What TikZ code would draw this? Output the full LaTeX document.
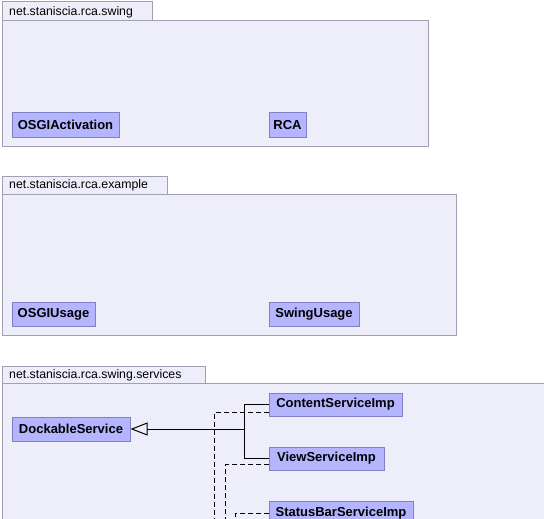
\documentclass[tikz,border=0pt]{standalone}
\usepackage{fontspec}
\setmainfont{Liberation Sans}
\usetikzlibrary{arrows.meta}
\definecolor{pkgfill}{RGB}{238,238,251}
\definecolor{pkgdraw}{RGB}{160,160,178}
\definecolor{clsfill}{RGB}{180,180,255}
\definecolor{clsdraw}{RGB}{128,128,196}
\tikzset{
  pkgbox/.style={draw=pkgdraw, fill=pkgfill, line width=1pt},
  pkglabel/.style={anchor=west, inner sep=0pt, font=\fontsize{12.3}{14}\selectfont},
  cls/.style={draw=clsdraw, fill=clsfill, line width=1pt, inner sep=0pt,
    minimum height=24pt, font=\bfseries\fontsize{13}{15}\selectfont},
  conn/.style={line width=1pt, black},
  dep/.style={line width=1pt, black, dash pattern=on 5pt off 3pt},
}
\begin{document}
\begin{tikzpicture}[x=1pt,y=-1pt]
\useasboundingbox (0,0) rectangle (544,519);
\clip (0,0) rectangle (544,519);
\fill[white] (0,0) rectangle (544,519);
% package 1
\draw[pkgbox] (2,21) rectangle (428,146);
\draw[pkgbox] (2,2) rectangle (152,21);
\node[pkglabel] (p1) at (9,12) {net.staniscia.rca.swing};
% package 2
\draw[pkgbox] (2,194) rectangle (456,335);
\draw[pkgbox] (2,176) rectangle (167,194);
\node[pkglabel] (p2) at (9,185.5) {net.staniscia.rca.example};
% package 3
\draw[pkgbox] (2,383) rectangle (560,560);
\draw[pkgbox] (2,366) rectangle (205,383);
\node[pkglabel] (p3) at (9,375) {net.staniscia.rca.swing.services};
% classes
\node[cls, minimum width=107pt] (osgiact) at (65.5,125) {OSGIActivation};
\node[cls, minimum width=37pt] (rca) at (287.5,125) {RCA};
\node[cls, minimum width=83pt] (osgiusage) at (53.5,314) {OSGIUsage};
\node[cls, minimum width=90pt] (swingusage) at (314,314.5) {SwingUsage};
\node[cls, minimum width=118pt] (dock) at (71,429) {DockableService};
\node[cls, minimum width=133pt, minimum height=23pt] (content) at (335.5,404.5) {ContentServiceImp};
\node[cls, minimum width=115pt, minimum height=23pt] (view) at (326.5,458.5) {ViewServiceImp};
\node[cls, minimum width=144pt] (status) at (341,513) {StatusBarServiceImp};
% generalization
\coordinate (j) at (244,429);
\draw[conn] (content.west) -| (j);
\draw[conn] (view.west) -| (j);
\draw[conn, -{Triangle[open, length=17pt, width=13pt, line width=1pt]}] (j) -- (dock.east);
% dependencies (leaving the picture)
\coordinate (d1) at (214,530);
\coordinate (d2) at (225,530);
\coordinate (d3) at (235,530);
\draw[dep] ([yshift=4pt]content.south west) -| (d1);
\draw[dep] ([yshift=6pt]view.south west) -| (d2);
\draw[dep] (status.west) -| (d3);
\end{tikzpicture}
\end{document}
